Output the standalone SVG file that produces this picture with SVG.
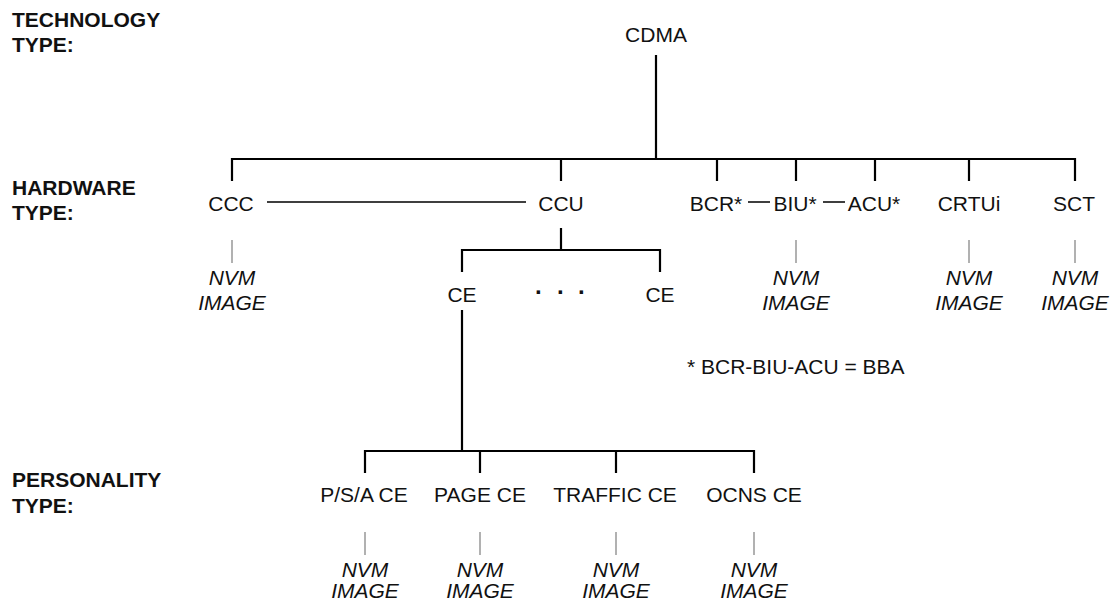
<svg xmlns="http://www.w3.org/2000/svg" width="1110" height="603" viewBox="0 0 1110 603">
<style>
text{font-family:"Liberation Sans",Arial,sans-serif;font-size:21px;fill:#111}
.lbl{font-weight:bold}
.n{text-anchor:middle}
.i{font-style:italic;text-anchor:middle}
.d{font-weight:bold;font-size:24px;text-anchor:middle}
.t{stroke:#000;stroke-width:2.2;fill:none}
.th{stroke:#000;stroke-width:1.3;fill:none}
.g{stroke:#888;stroke-width:1.3;fill:none}
</style>
<rect width="1110" height="603" fill="#fff"/>
<g id="labels">
<text class="lbl" x="12" y="27">TECHNOLOGY</text>
<text class="lbl" x="12" y="52">TYPE:</text>
<text class="lbl" x="12" y="195">HARDWARE</text>
<text class="lbl" x="12" y="220">TYPE:</text>
<text class="lbl" x="12" y="487">PERSONALITY</text>
<text class="lbl" x="12" y="513">TYPE:</text>
</g>
<g id="connectors">
<path class="t" d="M656 55V159M232 181V159H1075V181M561 159V181M717 159V181M796 159V181M875 159V181M969 159V181"/>
<path class="th" d="M267 202H526M748 202H770M823 202H845"/>
<path class="t" d="M561 228V250M462 272V250H660V272"/>
<path class="t" d="M462 310V451M365 473V451H754V473M480 451V473M616 451V473"/>
<path class="g" d="M232 240V263M796 240V263M969 240V263M1075 240V263M365 532V555M480 532V555M616 532V555M754 532V555"/>
</g>
<g id="cdma"><text class="n" x="656" y="42">CDMA</text></g>
<g id="ccc"><text class="n" x="231" y="211">CCC</text></g>
<g id="ccu"><text class="n" x="561" y="211">CCU</text></g>
<g id="bcr"><text class="n" x="716" y="211">BCR*</text></g>
<g id="biu"><text class="n" x="795" y="211">BIU*</text></g>
<g id="acu"><text class="n" x="874" y="211">ACU*</text></g>
<g id="crtui"><text class="n" x="969" y="211">CRTUi</text></g>
<g id="sct"><text class="n" x="1074" y="211">SCT</text></g>
<g id="ce1"><text class="n" x="462" y="302">CE</text></g>
<g id="dots"><text class="d" x="539 561 582" y="300">···</text></g>
<g id="ce2"><text class="n" x="660" y="302">CE</text></g>
<g id="note"><text x="687" y="374">* BCR-BIU-ACU = BBA</text></g>
<g id="psa"><text class="n" x="364" y="502">P/S/A CE</text></g>
<g id="page"><text class="n" x="480" y="502">PAGE CE</text></g>
<g id="traffic"><text class="n" x="615" y="502">TRAFFIC CE</text></g>
<g id="ocns"><text class="n" x="754" y="502">OCNS CE</text></g>
<g id="nvm-ccc"><text class="i" x="232" y="285">NVM</text><text class="i" x="232" y="310">IMAGE</text></g>
<g id="nvm-biu"><text class="i" x="796" y="285">NVM</text><text class="i" x="796" y="310">IMAGE</text></g>
<g id="nvm-crtui"><text class="i" x="969" y="285">NVM</text><text class="i" x="969" y="310">IMAGE</text></g>
<g id="nvm-sct"><text class="i" x="1075" y="285">NVM</text><text class="i" x="1075" y="310">IMAGE</text></g>
<g id="nvm-psa"><text class="i" x="365" y="577">NVM</text><text class="i" x="365" y="598">IMAGE</text></g>
<g id="nvm-page"><text class="i" x="480" y="577">NVM</text><text class="i" x="480" y="598">IMAGE</text></g>
<g id="nvm-traffic"><text class="i" x="616" y="577">NVM</text><text class="i" x="616" y="598">IMAGE</text></g>
<g id="nvm-ocns"><text class="i" x="754" y="577">NVM</text><text class="i" x="754" y="598">IMAGE</text></g>
</svg>
